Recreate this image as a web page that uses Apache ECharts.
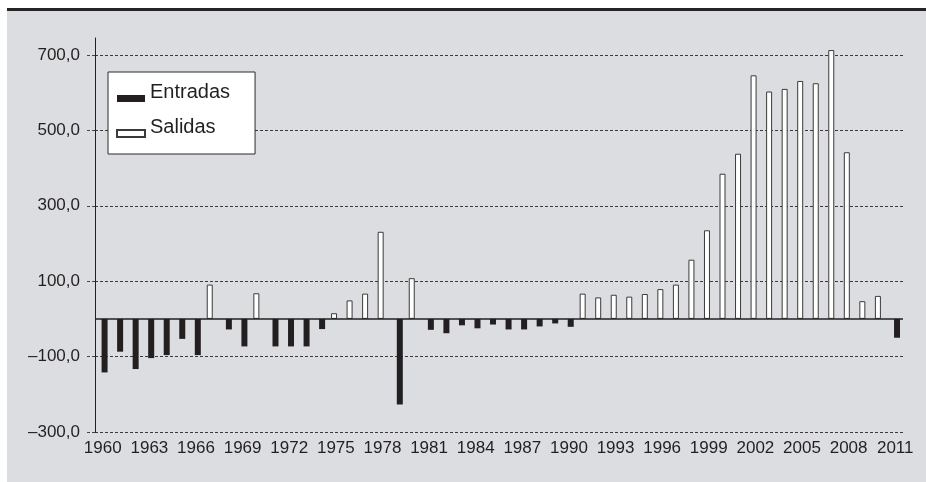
<!DOCTYPE html>
<html>
<head>
<meta charset="utf-8">
<script src="https://cdn.jsdelivr.net/npm/echarts@6/dist/echarts.min.js"></script>
<style>
  html, body { margin: 0; padding: 0; background: #ffffff; }
  #panel { position: absolute; left: 7px; top: 8px; width: 919px; height: 474px;
           background: #dcdde0; border-top: 3.5px solid #262324; box-sizing: border-box; }
  #chart { position: absolute; left: 0; top: 0; width: 926px; height: 482px; }
</style>
</head>
<body>
<div id="panel"></div>
<div id="chart"></div>
<script>
// Categories (years)
const years = ['1960','1961','1962','1963','1964','1965','1966','1967','1968','1969',
  '1970','1971','1972','1973','1974','1975','1976','1977','1978','1979',
  '1980','1981','1982','1983','1984','1985','1986','1987','1988','1989',
  '1990','1991','1992','1993','1994','1995','1996','1997','1998','1999',
  '2000','2001','2002','2003','2004','2005','2006','2007','2008','2009',
  '2010','2011'];

// Entradas (negative values), null where the year has Salidas
const entradas = [-142,-87,-133,-104,-96,-53,-96,null,-28,-73,
  null,-73,-73,-73,-27,null,null,null,null,-227,
  null,-29,-38,-17,-25,-15,-28,-28,-20,-12,
  -21,null,null,null,null,null,null,null,null,null,
  null,null,null,null,null,null,null,null,null,null,
  null,-50];

// Salidas (positive values), null where the year has Entradas
const salidas = [null,null,null,null,null,null,null,91,null,null,
  68,null,null,null,null,15,49,67,231,null,
  108,null,null,null,null,null,null,null,null,null,
  null,67,57,64,59,66,79,91,157,235,
  385,438,646,603,610,631,625,713,442,47,
  61,null];

// Y tick labels
const yTicks = [-300,-100,100,300,500,700];

const ink = '#231f20';
const axisFont = '"Liberation Sans", Arial, sans-serif';
// legend icon: a bar sitting low in the item box (a bare moveTo at the top keeps the box height)
const lowBar = 'path://M0,0 M0,13L28,13L28,20L0,20Z';

const chart = echarts.init(document.getElementById('chart'), null, {renderer: 'canvas'});
chart.setOption({
  backgroundColor: 'transparent',
  animation: false,
  grid: { left: 95, right: 23, top: 38, bottom: 50, containLabel: false },
  legend: {
    orient: 'vertical',
    left: 108, top: 72,
    data: ['Entradas', 'Salidas'],
    backgroundColor: '#ffffff',
    borderColor: '#2a2a2a',
    borderWidth: 1,
    borderRadius: 0,
    padding: [10, 25, 16, 8],
    itemGap: 14,
    itemWidth: 28,
    itemHeight: 20,
    icon: lowBar,
    textStyle: {
      fontFamily: '"Liberation Sans", Arial, sans-serif',
      fontSize: 20,
      color: ink,
      lineHeight: 20
    }
  },
  xAxis: {
    type: 'category',
    data: years,
    axisLine: { show: false },
    axisTick: { show: false },
    splitLine: { show: false },
    axisLabel: {
      interval: 2,
      margin: 8,
      fontFamily: axisFont,
      fontSize: 17,
      color: ink
    }
  },
  yAxis: {
    type: 'value',
    min: -300,
    max: 745,
    interval: 200,
    axisLine: { show: true, lineStyle: { color: ink, width: 1 } },
    axisTick: { show: true, length: 9, customValues: yTicks,
                lineStyle: { color: '#444', width: 1, type: [3, 2] } },
    axisLabel: {
      margin: 15,
      customValues: yTicks,
      fontFamily: axisFont,
      fontSize: 17,
      color: ink,
      formatter: v => (v < 0 ? '\u2013' : '') + Math.abs(v).toFixed(1).replace('.', ',')
    },
    splitLine: {
      show: true,
      lineStyle: { color: '#3a3a3a', width: 1, type: [3, 2] }
    }
  },
  series: [
    {
      name: 'Salidas',
      type: 'bar',
      data: salidas,
      barWidth: 6,
      barGap: '-40%',
      itemStyle: { color: '#ffffff', borderColor: '#3a3a3a', borderWidth: 1 },
      markLine: {
        silent: true,
        symbol: 'none',
        label: { show: false },
        lineStyle: { color: ink, width: 1.5, type: 'solid' },
        data: [{ yAxis: 0 }]
      }
    },
    {
      name: 'Entradas',
      type: 'bar',
      data: entradas,
      barWidth: 6,
      itemStyle: { color: ink }
    }
  ]
});
</script>
</body>
</html>
